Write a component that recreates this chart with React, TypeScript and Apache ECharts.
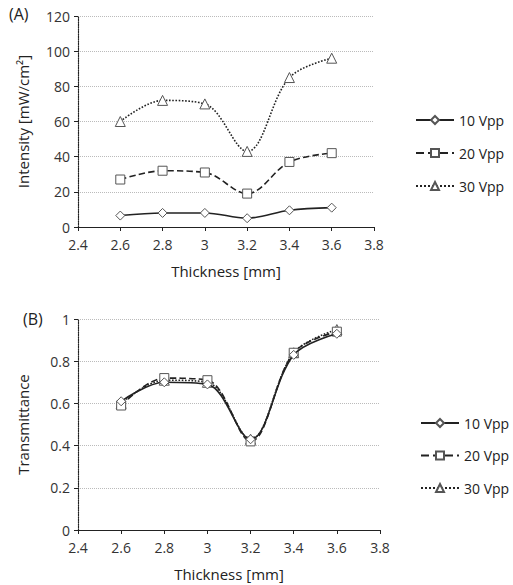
import React, { useEffect, useRef } from "react";
import * as echarts from "echarts";

const thickness = [2.6, 2.8, 3.0, 3.2, 3.4, 3.6];
const seriesNames = ["10 Vpp", "20 Vpp", "30 Vpp"];
const intensity10 = [6.5, 8, 8, 5, 9.5, 11];
const intensity20 = [27, 32, 31, 19, 37, 42];
const intensity30 = [60, 72, 70, 43, 85, 96];
const trans10 = [0.61, 0.7, 0.69, 0.43, 0.83, 0.93];
const trans20 = [0.59, 0.72, 0.71, 0.42, 0.84, 0.94];
const trans30 = [0.6, 0.71, 0.7, 0.43, 0.84, 0.95];

const symbols = ["diamond", "rect", "triangle"];
const lineTypes: any[] = ["solid", "dashed", "dotted"];
const FONT = "Open Sans";
const INK = "#222";

function pairs(ys: number[]) {
  return thickness.map((x, i) => [x, ys[i]]);
}

export default function App() {
  const ref = useRef<HTMLDivElement>(null);
  useEffect(() => {
    if (!ref.current) return;
    const chart = echarts.init(ref.current, undefined, { renderer: "svg" });
    const mk = (name: string, idx: number, data: number[], axis: number) => ({
      type: "line",
      name,
      xAxisIndex: axis,
      yAxisIndex: axis,
      data: pairs(data),
      smooth: 0.35,
      symbol: symbols[idx],
      symbolSize: idx === 2 ? 10 : 9,
      lineStyle: { color: INK, width: 1.6, type: lineTypes[idx] },
      itemStyle: { color: "#fff", borderColor: "#555", borderWidth: 1 },
      z: 3 - idx,
    });
    const xAxisBase = (gridIndex: number) => ({
      type: "value",
      gridIndex,
      min: 2.4,
      max: 3.8,
      interval: 0.2,
      name: "Thickness [mm]",
      nameLocation: "middle",
      nameGap: 36,
      nameTextStyle: { fontFamily: FONT, fontSize: 15, color: INK },
      axisLabel: {
        fontFamily: FONT,
        fontSize: 14,
        color: "#333",
        margin: 10,
        formatter: (v: number) => String(Math.round(v * 10) / 10),
      },
      axisLine: { lineStyle: { color: INK, width: 1.2 } },
      axisTick: { lineStyle: { color: INK }, length: 4 },
      splitLine: { show: false },
    });
    const yAxisBase = (gridIndex: number, name: string, max: number, interval: number) => ({
      type: "value",
      gridIndex,
      min: 0,
      max,
      interval,
      name,
      nameLocation: "middle",
      nameGap: 48,
      nameTextStyle: { fontFamily: FONT, fontSize: 15, color: INK },
      axisLabel: { fontFamily: FONT, fontSize: 14, color: "#333", margin: 8 },
      axisLine: { show: true, lineStyle: { color: INK, width: 1.2, type: "dotted" } },
      axisTick: { show: true, lineStyle: { color: INK }, length: 4 },
      splitLine: { show: true, lineStyle: { color: "#bbb", type: "dotted", width: 1 } },
    });
    const legendBase = (top: number, left: number, gap: number) => ({
      orient: "vertical",
      left,
      top,
      itemWidth: 38,
      itemHeight: 10,
      itemGap: gap,
      data: seriesNames,
      textStyle: { fontFamily: FONT, fontSize: 14, color: INK },
      selectedMode: false,
    });
    chart.setOption({
      animation: false,
      grid: [
        { left: 78, top: 16, width: 296, height: 211 },
        { left: 78, top: 319, width: 302, height: 211 },
      ],
      xAxis: [xAxisBase(0), xAxisBase(1)],
      yAxis: [
        yAxisBase(0, "Intensity [mW/cm²]", 120, 20),
        yAxisBase(1, "Transmittance", 1, 0.2),
      ],
      legend: [legendBase(108, 410, 19), legendBase(411, 415, 18.5)],
      graphic: [
        { type: "text", left: 9, top: 6, style: { text: "(A)", fontFamily: FONT, fontSize: 16, fill: INK } },
        { type: "text", left: 23, top: 311, style: { text: "(B)", fontFamily: FONT, fontSize: 16, fill: INK } },
      ],
      series: [
        mk(seriesNames[0], 0, intensity10, 0),
        mk(seriesNames[1], 1, intensity20, 0),
        mk(seriesNames[2], 2, intensity30, 0),
        mk(seriesNames[0], 0, trans10, 1),
        mk(seriesNames[1], 1, trans20, 1),
        mk(seriesNames[2], 2, trans30, 1),
      ],
    });
    return () => chart.dispose();
  }, []);
  return (
    <div
      ref={ref}
      style={{ position: "absolute", left: 0, top: 0, width: 513, height: 585 }}
    />
  );
}
